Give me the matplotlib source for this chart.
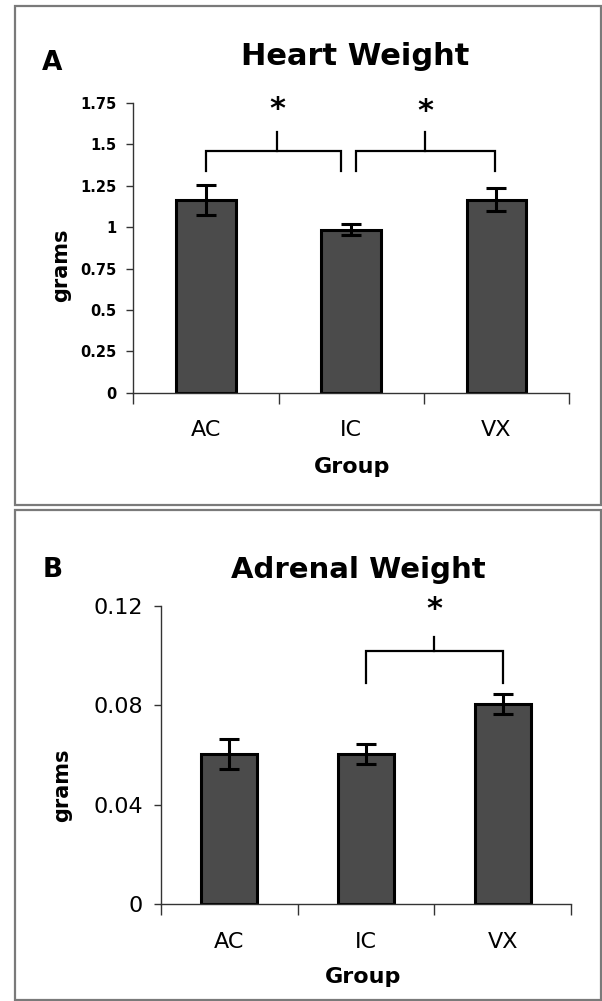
import matplotlib
matplotlib.use("Agg")
import matplotlib.pyplot as plt
from matplotlib.patches import Rectangle
from matplotlib.ticker import FixedLocator

plt.rcParams['font.family'] = ['DejaVu Sans']

groups = ["AC", "IC", "VX"]
heart_mean = [1.165, 0.985, 1.165]
heart_err = [0.09, 0.035, 0.07]
adrenal_mean = [0.0605, 0.0603, 0.0805]
adrenal_err = [0.006, 0.004, 0.004]

heart_yticks = [0, 0.25, 0.5, 0.75, 1, 1.25, 1.5, 1.75]
heart_ylabels = ["0", "0.25", "0.5", "0.75", "1", "1.25", "1.5", "1.75"]
adrenal_yticks = [0, 0.04, 0.08, 0.12]
adrenal_ylabels = ["0", "0.04", "0.08", "0.12"]

# significance brackets: (x_left, x_right, x_mid, y_leg_bottom, y_bar, y_mid_top, y_star)
heart_brackets = [(0.0, 0.93, 0.49, 1.34, 1.46, 1.575, 1.71),
                  (1.03, 1.99, 1.51, 1.34, 1.46, 1.575, 1.70)]
adrenal_brackets = [(1.0, 2.0, 1.5, 0.089, 0.102, 0.1077, 0.1184)]

W, H = 602, 1001
fig = plt.figure(figsize=(W / 100, H / 100), dpi=100)

def fx(x):
    return x / W

def fy(y):
    return 1 - y / H

# panel frames
for (x0, y0, x1, y1) in [(14.5, 6.5, 600.5, 505), (14.5, 509.5, 600.5, 1000)]:
    fig.patches.append(Rectangle((fx(x0), fy(y1)), fx(x1) - fx(x0), fy(y0) - fy(y1),
                                 transform=fig.transFigure, fill=False,
                                 edgecolor="#7a7a7a", linewidth=1.6))

bar_color = "#4b4b4b"

def draw_panel(ax, means, errs, yticks, ylabels, ymax, ytick_fs, ytick_bold, brackets, ytick_pad):
    x = list(range(len(groups)))
    ax.bar(x, means, width=0.41, color=bar_color, edgecolor="black", linewidth=2.2, zorder=2)
    ax.errorbar(x, means, yerr=errs, fmt="none", ecolor="black", elinewidth=2.2,
                capsize=7.5, capthick=2.2, zorder=3)
    ax.set_xlim(-0.5, 2.5)
    ax.set_ylim(0, ymax)
    ax.spines["top"].set_visible(False)
    ax.spines["right"].set_visible(False)
    for s in ("left", "bottom"):
        ax.spines[s].set_color("#333333")
        ax.spines[s].set_linewidth(1.0)
    ax.set_yticks(yticks)
    ax.set_yticklabels(ylabels, fontsize=ytick_fs,
                       fontweight="bold" if ytick_bold else "normal")
    ax.tick_params(axis="y", direction="out", length=5, width=1.0, color="#333333", pad=ytick_pad)
    ax.set_xticks(x)
    ax.set_xticklabels(groups, fontsize=16)
    ax.tick_params(axis="x", which="major", length=0, pad=20)
    ax.xaxis.set_minor_locator(FixedLocator([-0.5, 0.5, 1.5, 2.5]))
    ax.tick_params(axis="x", which="minor", direction="out", length=8, width=1.0, color="#333333")
    for (xl, xr, xm, yb, yh, yt, ys) in brackets:
        ax.plot([xl, xl, xr, xr], [yb, yh, yh, yb], color="black", lw=1.6,
                solid_joinstyle="miter", clip_on=False, zorder=4)
        ax.plot([xm, xm], [yh, yt], color="black", lw=1.6, clip_on=False, zorder=4)
        ax.text(xm, ys, "*", ha="center", va="center", fontsize=22, fontweight="bold",
                clip_on=False)

# Panel A
axA = fig.add_axes([fx(133.3), fy(392.7), fx(569) - fx(133.3), fy(103) - fy(392.7)])
draw_panel(axA, heart_mean, heart_err, heart_yticks, heart_ylabels, 1.75, 10.5, True,
           heart_brackets, 7)
fig.text(fx(42), fy(70), "A", fontsize=19, fontweight="bold", ha="left", va="baseline")
fig.text(fx(355), fy(65), "Heart Weight", fontsize=22, fontweight="bold", ha="center", va="baseline")
fig.text(fx(352), fy(473), "Group", fontsize=16, fontweight="bold", ha="center", va="baseline")
fig.text(fx(61), fy(265), "grams", fontsize=15, fontweight="bold", rotation=90,
         ha="center", va="center")

# Panel B
axB = fig.add_axes([fx(161), fy(904.3), fx(571) - fx(161), fy(606) - fy(904.3)])
draw_panel(axB, adrenal_mean, adrenal_err, adrenal_yticks, adrenal_ylabels, 0.12, 16, False,
           adrenal_brackets, 8)
fig.text(fx(43), fy(577), "B", fontsize=19, fontweight="bold", ha="left", va="baseline")
fig.text(fx(358), fy(578), "Adrenal Weight", fontsize=21, fontweight="bold", ha="center", va="baseline")
fig.text(fx(363), fy(983), "Group", fontsize=16, fontweight="bold", ha="center", va="baseline")
fig.text(fx(62), fy(785), "grams", fontsize=15, fontweight="bold", rotation=90,
         ha="center", va="center")

fig.savefig("out.png", dpi=100)
